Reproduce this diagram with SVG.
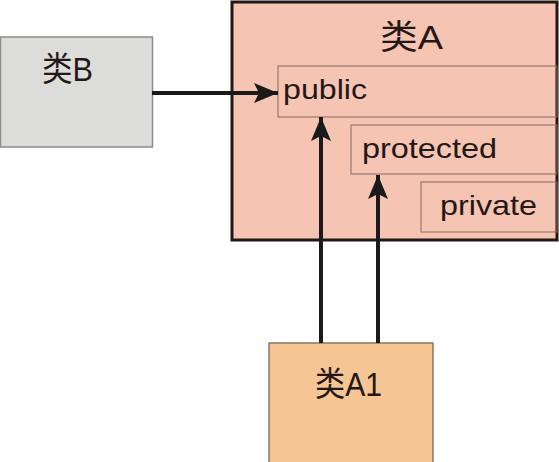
<svg xmlns="http://www.w3.org/2000/svg" width="559" height="462" viewBox="0 0 559 462">
<style>
.t{font-family:"Liberation Sans","Noto Sans CJK SC",sans-serif;fill:#231815}
.big{font-size:34px}
.mid{font-size:28px}
.sub{fill:none;stroke:#8a6b62;stroke-width:1}
.conn{stroke:#1a1a1a;stroke-width:4;fill:none}
</style>
<defs>
<marker id="ah2" viewBox="0 0 24 20" refX="24" refY="10" markerWidth="24" markerHeight="20" markerUnits="userSpaceOnUse" orient="auto">
<path d="M0,0 L24,10 L0,20 L5,10 Z" fill="#1a1a1a"/>
</marker>
</defs>
<rect width="559" height="462" fill="#fff"/>
<g id="classB">
<rect x="0.5" y="37" width="152" height="110" fill="#dcdcdb" stroke="#8c8c8c" stroke-width="1.5"/>
<text class="t big" x="42" y="81" textLength="51" lengthAdjust="spacingAndGlyphs">类B</text>
</g>
<g id="classA">
<rect x="232" y="2" width="325" height="238" fill="#f5c4b3" stroke="#231815" stroke-width="3"/>
<text class="t big" x="380" y="49" textLength="63" lengthAdjust="spacingAndGlyphs">类A</text>
<g id="public">
<rect class="sub" x="278" y="66" width="279" height="51"/>
<text class="t mid" x="283" y="99" textLength="84" lengthAdjust="spacingAndGlyphs">public</text>
</g>
<g id="protected">
<rect class="sub" x="351" y="125" width="206" height="49"/>
<text class="t mid" x="362" y="158" textLength="135" lengthAdjust="spacingAndGlyphs">protected</text>
</g>
<g id="private">
<rect class="sub" x="421" y="182" width="136" height="50"/>
<text class="t mid" x="440" y="215" textLength="97" lengthAdjust="spacingAndGlyphs">private</text>
</g>
</g>
<g id="classA1">
<rect x="269" y="343" width="164" height="121" fill="#f5c594" stroke="#8c7565" stroke-width="1.5"/>
<text class="t big" x="315" y="396" textLength="67" lengthAdjust="spacingAndGlyphs">类A1</text>
</g>
<g id="connectors">
<line class="conn" x1="152" y1="93" x2="278" y2="93" marker-end="url(#ah2)"/>
<line class="conn" x1="321" y1="343" x2="321" y2="117" marker-end="url(#ah2)"/>
<line class="conn" x1="378" y1="343" x2="378" y2="175" marker-end="url(#ah2)"/>
</g>
</svg>
